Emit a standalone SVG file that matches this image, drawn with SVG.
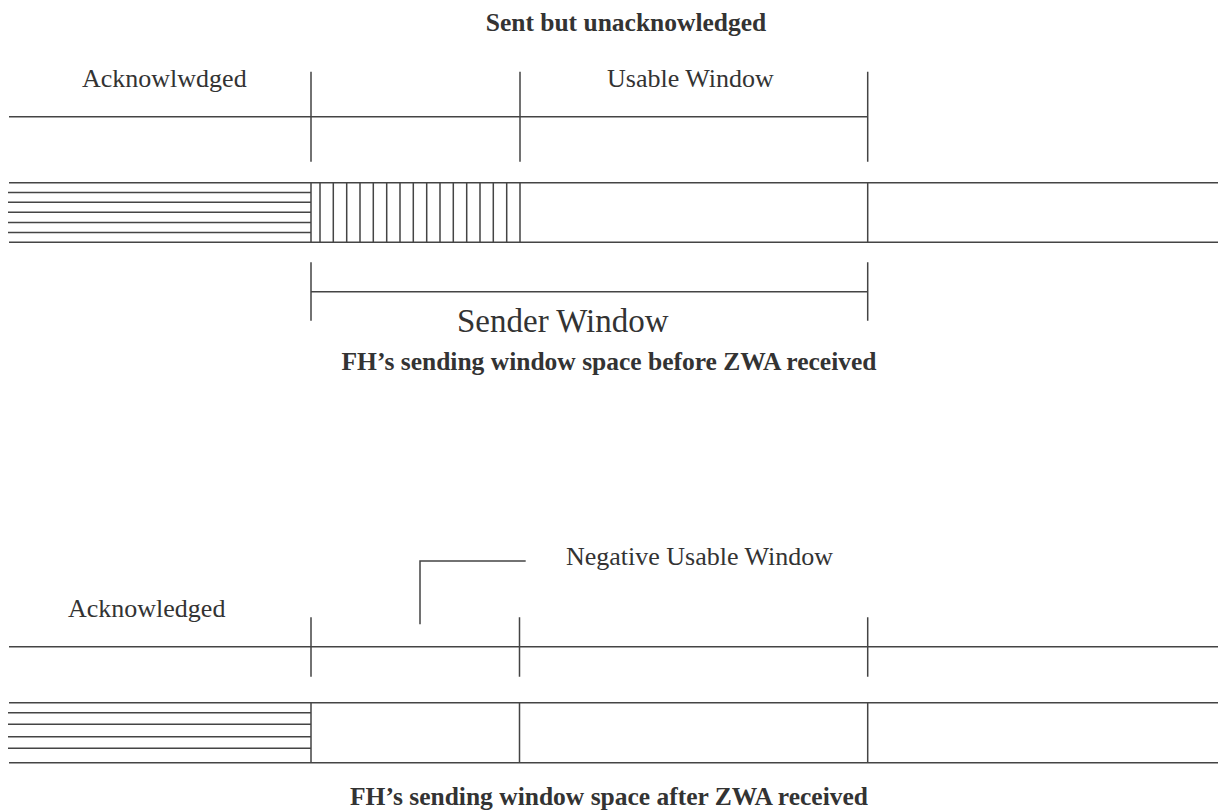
<svg xmlns="http://www.w3.org/2000/svg" width="1218" height="812" viewBox="0 0 1218 812">
<style>
.l{stroke:#444;stroke-width:1.5;fill:none}
.t{font-family:"Liberation Serif","Times New Roman",serif;fill:#333;font-size:26px}
.b{font-family:"Liberation Serif","Times New Roman",serif;fill:#333;font-size:25.5px;font-weight:bold}
</style>
<rect width="1218" height="812" fill="#fff"/>
<g id="title"><text class="b" x="626" y="31" text-anchor="middle">Sent but unacknowledged</text></g>
<g id="top-scale">
<text class="t" x="82" y="87">Acknowlwdged</text>
<text class="t" x="607" y="87">Usable Window</text>
<path class="l" d="M9 116.7H868M311 71.7V161.7M520 71.7V161.7M867.7 71.7V161.7"/>
</g>
<g id="top-bar">
<path class="l" d="M9 182.7H1218M9 242.3H1218M311 182.7V242.3M520 182.7V242.3M867.7 182.7V242.3"/>
<path class="l" d="M8 192.5H311M8 202.3H311M8 212.3H311M8 222.5H311M8 232.5H311"/>
<path class="l" d="M320 182.7V242.3M333.3 182.7V242.3M346.7 182.7V242.3M360 182.7V242.3M373.3 182.7V242.3M386.7 182.7V242.3M400 182.7V242.3M413.3 182.7V242.3M426.7 182.7V242.3M440 182.7V242.3M453.3 182.7V242.3M466.7 182.7V242.3M480 182.7V242.3M493.3 182.7V242.3M506.7 182.7V242.3"/>
</g>
<g id="sender-window">
<path class="l" d="M311 291.7H868M311 262.3V320.7M867.7 262.3V320.7"/>
<text class="t" x="457" y="332" style="font-size:33px">Sender Window</text>
</g>
<g id="caption-before"><text class="b" x="609" y="370" text-anchor="middle">FH’s sending window space before ZWA received</text></g>
<g id="bottom-scale">
<text class="t" x="566" y="565">Negative Usable Window</text>
<path class="l" d="M525.7 561H420V624.3"/>
<text class="t" x="68" y="617">Acknowledged</text>
<path class="l" d="M9 646.7H1218M311 617.3V676.7M519.5 617.3V676.7M867.7 617.3V676.7"/>
</g>
<g id="bottom-bar">
<path class="l" d="M9 702.7H1218M9 762.7H1218M311 702.7V762.7M519.5 702.7V762.7M867.7 702.7V762.7"/>
<path class="l" d="M8 712.7H311M8 724.3H311M8 736.7H311M8 748.3H311"/>
</g>
<g id="caption-after"><text class="b" x="609" y="805" text-anchor="middle">FH’s sending window space after ZWA received</text></g>
</svg>
